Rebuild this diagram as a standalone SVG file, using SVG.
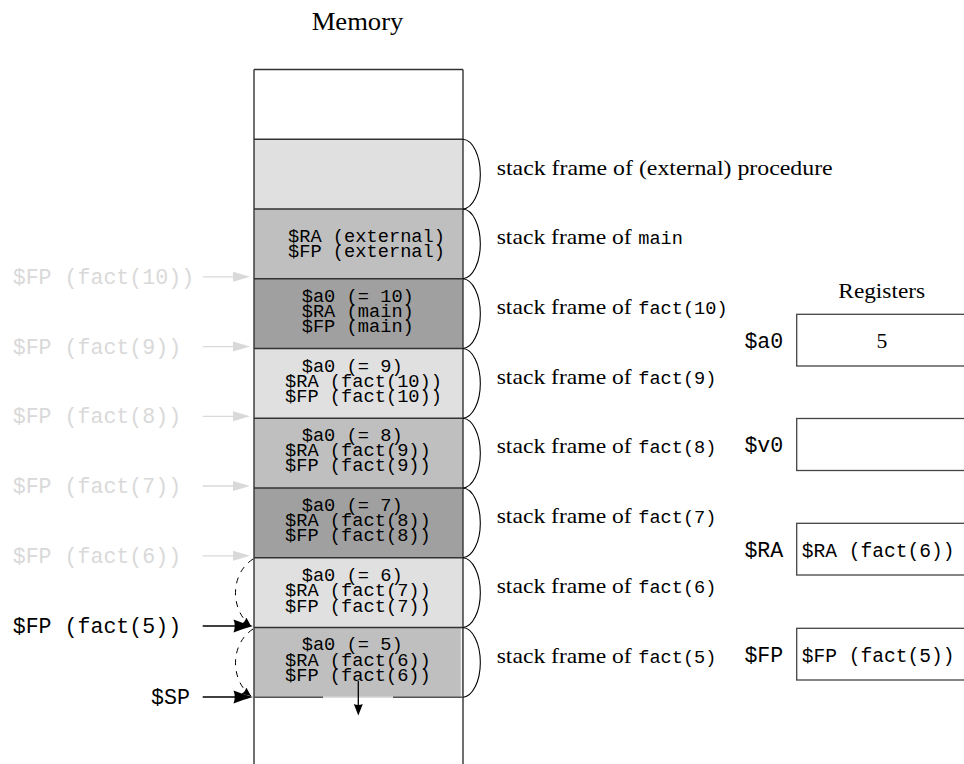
<svg xmlns="http://www.w3.org/2000/svg" width="964" height="764" viewBox="0 0 964 764">
<defs>
<style>
.serif{font-family:"Liberation Serif","Times New Roman",serif;font-size:21.7px;fill:#000}
.mono{font-family:"Liberation Mono","Courier New",monospace;fill:#000}
.cell{font-size:18.7px}
.lbl{font-size:18.6px}
.big{font-size:21.6px}
.reg{font-size:19.6px}
.ghost{fill:#d9d9d9}
.border{stroke:#333;stroke-width:1.4;fill:none}
.brace{stroke:#000;stroke-width:1.1;fill:none}
.rbox{stroke:#444;stroke-width:1.3;fill:#fff}
.garrow{stroke:#d9d9d9;stroke-width:1.3}
.dash{stroke:#000;stroke-width:1;fill:none;stroke-dasharray:6 6}
</style>
<marker id="small" markerUnits="userSpaceOnUse" markerWidth="12" markerHeight="12" refX="9" refY="4" orient="auto">
<path d="M0,0 L9,4 L0,8 Q2,4 0,0 Z" fill="#000"/>
</marker>
</defs>

<text class="serif" x="357.5" y="30" text-anchor="middle" style="font-size:25.4px" textLength="91.7" lengthAdjust="spacingAndGlyphs">Memory</text>

<g id="memory-column">
<rect x="254" y="69.5" width="209" height="69.75" fill="#fff"/>
<g id="frame-external"><rect x="254" y="139.25" width="209" height="69.75" fill="#e0e0e0"/></g>
<g id="frame-main"><rect x="254" y="209" width="209" height="69.75" fill="#bfbfbf"/>
<text class="mono cell" x="288" y="242">$RA (external)</text>
<text class="mono cell" x="288" y="257">$FP (external)</text></g>
<g id="frame-fact10"><rect x="254" y="278.75" width="209" height="69.75" fill="#a0a0a0"/>
<text class="mono cell" x="301.7" y="301.5">$a0 (= 10)</text>
<text class="mono cell" x="301.7" y="316.5">$RA (main)</text>
<text class="mono cell" x="301.7" y="331.5">$FP (main)</text></g>
<g id="frame-fact9"><rect x="254" y="348.5" width="209" height="69.75" fill="#e0e0e0"/>
<text class="mono cell" x="301.7" y="371.5">$a0 (= 9)</text>
<text class="mono cell" x="285" y="386.5">$RA (fact(10))</text>
<text class="mono cell" x="285" y="401.5">$FP (fact(10))</text></g>
<g id="frame-fact8"><rect x="254" y="418.25" width="209" height="69.75" fill="#bfbfbf"/>
<text class="mono cell" x="301.7" y="441">$a0 (= 8)</text>
<text class="mono cell" x="285" y="456">$RA (fact(9))</text>
<text class="mono cell" x="285" y="471">$FP (fact(9))</text></g>
<g id="frame-fact7"><rect x="254" y="488" width="209" height="69.75" fill="#a0a0a0"/>
<text class="mono cell" x="301.7" y="510.5">$a0 (= 7)</text>
<text class="mono cell" x="285" y="525.5">$RA (fact(8))</text>
<text class="mono cell" x="285" y="540.5">$FP (fact(8))</text></g>
<g id="frame-fact6"><rect x="254" y="557.75" width="209" height="69.75" fill="#e0e0e0"/>
<text class="mono cell" x="301.7" y="580.5">$a0 (= 6)</text>
<text class="mono cell" x="285" y="596">$RA (fact(7))</text>
<text class="mono cell" x="285" y="611.5">$FP (fact(7))</text></g>
<g id="frame-fact5"><rect x="254" y="627.5" width="209" height="69.75" fill="#bfbfbf"/>
<line x1="461.3" y1="628.5" x2="461.3" y2="697" stroke="#fff" stroke-width="1"/>
<text class="mono cell" x="301.7" y="650">$a0 (= 5)</text>
<text class="mono cell" x="285" y="665.5">$RA (fact(6))</text>
<text class="mono cell" x="285" y="681">$FP (fact(6))</text></g>
<g class="border">
<line x1="254" y1="69.5" x2="463" y2="69.5"/>
<line x1="254" y1="139.25" x2="463" y2="139.25"/>
<line x1="254" y1="209" x2="463" y2="209"/>
<line x1="254" y1="278.75" x2="463" y2="278.75"/>
<line x1="254" y1="348.5" x2="463" y2="348.5"/>
<line x1="254" y1="418.25" x2="463" y2="418.25"/>
<line x1="254" y1="488" x2="463" y2="488"/>
<line x1="254" y1="557.75" x2="463" y2="557.75"/>
<line x1="254" y1="627.5" x2="463" y2="627.5"/>
<line x1="254" y1="69.5" x2="254" y2="764"/>
<line x1="463" y1="69.5" x2="463" y2="764"/>
</g>
<line x1="254" y1="697.25" x2="323" y2="697.25" stroke="#555" stroke-width="1.4"/>
<line x1="323" y1="697.25" x2="393" y2="697.25" stroke="#dcdcdc" stroke-width="1.4"/>
<line x1="393" y1="697.25" x2="463" y2="697.25" stroke="#555" stroke-width="1.4"/>
</g>

<g id="braces" class="brace">
<path d="M463 139.25 A18 34.9 0 0 1 463 209"/>
<path d="M463 209 A18 34.9 0 0 1 463 278.75"/>
<path d="M463 278.75 A18 34.9 0 0 1 463 348.5"/>
<path d="M463 348.5 A18 34.9 0 0 1 463 418.25"/>
<path d="M463 418.25 A18 34.9 0 0 1 463 488"/>
<path d="M463 488 A18 34.9 0 0 1 463 557.75"/>
<path d="M463 557.75 A18 34.9 0 0 1 463 627.5"/>
<path d="M463 627.5 A18 34.9 0 0 1 463 697.25"/>
</g>

<g id="frame-labels">
<text class="serif" x="496.7" y="175" textLength="336" lengthAdjust="spacingAndGlyphs">stack frame of (external) procedure</text>
<text x="496.7" y="244"><tspan class="serif" textLength="135" lengthAdjust="spacingAndGlyphs">stack frame of</tspan><tspan class="mono lbl" x="638.3">main</tspan></text>
<text x="496.7" y="314"><tspan class="serif" textLength="135" lengthAdjust="spacingAndGlyphs">stack frame of</tspan><tspan class="mono lbl" x="638.3">fact(10)</tspan></text>
<text x="496.7" y="383.5"><tspan class="serif" textLength="135" lengthAdjust="spacingAndGlyphs">stack frame of</tspan><tspan class="mono lbl" x="638.3">fact(9)</tspan></text>
<text x="496.7" y="453.3"><tspan class="serif" textLength="135" lengthAdjust="spacingAndGlyphs">stack frame of</tspan><tspan class="mono lbl" x="638.3">fact(8)</tspan></text>
<text x="496.7" y="523.2"><tspan class="serif" textLength="135" lengthAdjust="spacingAndGlyphs">stack frame of</tspan><tspan class="mono lbl" x="638.3">fact(7)</tspan></text>
<text x="496.7" y="593"><tspan class="serif" textLength="135" lengthAdjust="spacingAndGlyphs">stack frame of</tspan><tspan class="mono lbl" x="638.3">fact(6)</tspan></text>
<text x="496.7" y="662.7"><tspan class="serif" textLength="135" lengthAdjust="spacingAndGlyphs">stack frame of</tspan><tspan class="mono lbl" x="638.3">fact(5)</tspan></text>
</g>

<g id="pointer-labels">
<text class="mono big ghost" x="12.7" y="284">$FP (fact(10))</text>
<text class="mono big ghost" x="12.7" y="354">$FP (fact(9))</text>
<text class="mono big ghost" x="12.7" y="423">$FP (fact(8))</text>
<text class="mono big ghost" x="12.7" y="493">$FP (fact(7))</text>
<text class="mono big ghost" x="12.7" y="563">$FP (fact(6))</text>
<text class="mono big" x="12.7" y="633">$FP (fact(5))</text>
<text class="mono big" x="190" y="704" text-anchor="end">$SP</text>
</g>

<g id="connectors">
<g class="garrow">
<line x1="202.7" y1="276.8" x2="238" y2="276.8"/>
<line x1="202.7" y1="346.6" x2="238" y2="346.6"/>
<line x1="202.7" y1="416.3" x2="238" y2="416.3"/>
<line x1="202.7" y1="486" x2="238" y2="486"/>
<line x1="202.7" y1="555.8" x2="238" y2="555.8"/>
</g>
<g fill="#d9d9d9">
<path d="M250 276.8 L233 271.8 L233 281.8 Z"/>
<path d="M250 346.6 L233 341.6 L233 351.6 Z"/>
<path d="M250 416.3 L233 411.3 L233 421.3 Z"/>
<path d="M250 486 L233 481 L233 491 Z"/>
<path d="M250 555.8 L233 550.8 L233 560.8 Z"/>
</g>
<line x1="202.7" y1="626" x2="240" y2="626" stroke="#000" stroke-width="1.3"/>
<path d="M253 626 Q242 623 233.5 619.5 Q236 626 233.5 632.5 Q242 629 253 626 Z" fill="#000"/>
<line x1="202.7" y1="697" x2="240" y2="697" stroke="#000" stroke-width="1.3"/>
<path d="M253 697 Q242 694 233.5 690.5 Q236 697 233.5 703.5 Q242 700 253 697 Z" fill="#000"/>
<path class="dash" d="M253 559 C230 574 230 610 251 626" marker-end="url(#small)"/>
<path class="dash" d="M253 629 C230 644 230 680 251 696" marker-end="url(#small)"/>
<line x1="358.3" y1="681" x2="358.3" y2="706" stroke="#000" stroke-width="1.3"/>
<path d="M358.3 715.5 L353.8 704 Q358.3 706 362.8 704 Z" fill="#000"/>
</g>

<text class="serif" x="881.7" y="298" text-anchor="middle" textLength="86.7" lengthAdjust="spacingAndGlyphs">Registers</text>
<g id="reg-a0">
<rect class="rbox" x="796.7" y="314.3" width="180" height="51.7"/>
<text class="mono big" x="783.3" y="347.5" text-anchor="end">$a0</text>
<text class="serif" x="882" y="347.5" text-anchor="middle">5</text>
</g>
<g id="reg-v0">
<rect class="rbox" x="796.7" y="418.5" width="180" height="52"/>
<text class="mono big" x="783.3" y="452" text-anchor="end">$v0</text>
</g>
<g id="reg-ra">
<rect class="rbox" x="796.7" y="523.3" width="180" height="51.7"/>
<text class="mono big" x="783.3" y="557" text-anchor="end">$RA</text>
<text class="mono reg" x="801.7" y="556.5">$RA (fact(6))</text>
</g>
<g id="reg-fp">
<rect class="rbox" x="796.7" y="628.3" width="180" height="51.7"/>
<text class="mono big" x="783.3" y="662" text-anchor="end">$FP</text>
<text class="mono reg" x="801.7" y="661.5">$FP (fact(5))</text>
</g>
</svg>
